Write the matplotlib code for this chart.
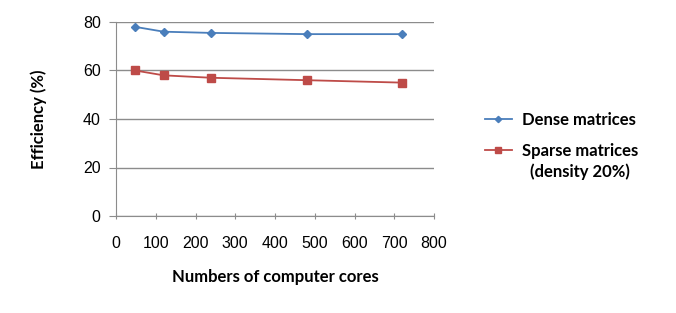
import matplotlib
matplotlib.use("Agg")
import matplotlib.pyplot as plt

# ── Data ──────────────────────────────────────────────────────────────────────
cores = [48, 120, 240, 480, 720]
dense = [78, 76, 75.5, 75, 75]
sparse = [60, 58, 57, 56, 55]

labels = ["Dense matrices", "Sparse matrices"]
sparse_note = "(density 20%)"
x_ticks = [0, 100, 200, 300, 400, 500, 600, 700, 800]
y_ticks = [0, 20, 40, 60, 80]

BLUE = "#4A7EBB"
RED = "#BE4B48"
GRID = "#8C8C8C"

plt.rcParams["font.family"] = ["Liberation Sans", "DejaVu Sans"]

fig = plt.figure(figsize=(6.76, 3.13), dpi=100)
ax = fig.add_axes([116 / 676, 1 - 216 / 313, 318 / 676, 194 / 313])

ax.plot(cores, dense, color=BLUE, lw=1.3, marker="D", ms=4, label=labels[0])
ax.plot(cores, sparse, color=RED, lw=1.3, marker="s", ms=6, label=labels[1])

ax.set_xlim(0, 800)
ax.set_ylim(0, 80)
ax.set_xticks(x_ticks)
ax.set_yticks(y_ticks)
ax.tick_params(axis="both", labelsize=11.5, color=GRID, length=5)
ax.tick_params(axis="x", direction="inout", pad=12)
ax.tick_params(axis="y", direction="out", pad=6)
ax.grid(axis="y", color=GRID, lw=1)
ax.set_axisbelow(True)
for side in ("top", "right"):
    ax.spines[side].set_visible(False)
for side in ("left", "bottom"):
    ax.spines[side].set_color(GRID)

lab_font = dict(family=["Lato", "DejaVu Sans"], weight="bold", size=12)
ax.set_xlabel("Numbers of computer cores", labelpad=13, **lab_font)
ax.set_ylabel("Efficiency (%)", labelpad=26, **lab_font)

leg = fig.legend(loc="upper left", bbox_to_anchor=(470 / 676, 1 - 97 / 313),
                 frameon=False, prop=dict(family=["Lato", "DejaVu Sans"], weight="bold", size=12),
                 handlelength=1.6, handletextpad=0.6, labelspacing=0.9, markerscale=0.8)

# second line of the sparse label, under the legend text
fig.text(530 / 676, 1 - 172 / 313, sparse_note, va="center", ha="left", **lab_font)

fig.savefig("out.png", dpi=100)
